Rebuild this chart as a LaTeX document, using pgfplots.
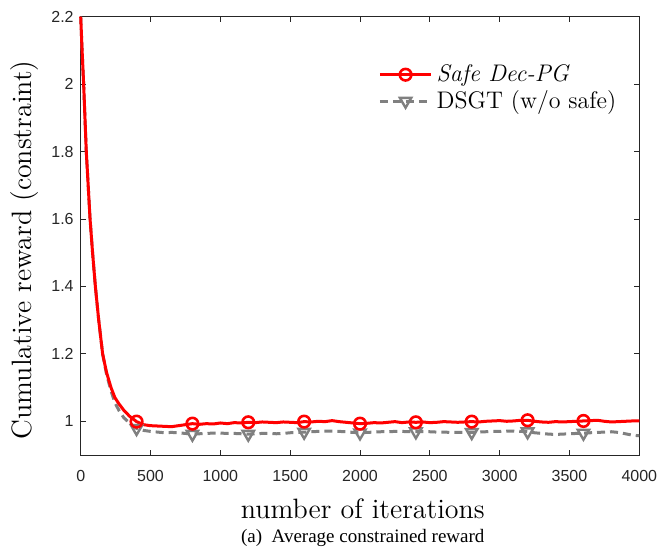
\documentclass[border=0pt]{standalone}
\usepackage{fontspec}
\usepackage{pgfplots}
\pgfplotsset{compat=1.18}
\newfontfamily\helv{Liberation Sans}
\newfontfamily\capfont{Liberation Serif}
\definecolor{axgray}{rgb}{0.15,0.15,0.15}
\definecolor{dgray}{rgb}{0.5,0.5,0.5}
\begin{document}
\begin{tikzpicture}
\begin{axis}[
  width=279.3pt, height=219.15pt, scale only axis,
  xmin=0, xmax=4000, ymin=0.9, ymax=2.2,
  xtick={0,500,...,4000},
  ytick={1,1.2,1.4,1.6,1.8,2,2.2},
  scaled ticks=false,
  /pgf/number format/1000 sep={},
  /pgf/number format/assume math mode=true,
  tick align=inside,
  major tick length=2.5pt,
  axis line style={axgray, line width=0.4pt},
  tick style={axgray, line width=0.4pt},
  ticklabel style={font=\helv\fontsize{8}{9}\selectfont, text=axgray},
  xticklabel style={yshift=-4pt},
  xlabel={number of iterations},
  ylabel={Cumulative reward (constraint)},
  label style={font=\fontsize{14}{16}\selectfont},
  xlabel style={at={(axis description cs:0.505,-0.122)}, anchor=center},
  ylabel style={at={(axis description cs:-0.101,0.468)}, anchor=center},
  clip=false,
  reverse legend,
  legend style={draw=none, fill=none, at={(0.97,0.905)}, anchor=north east,
    font=\fontsize{12}{13}\selectfont, row sep=-1pt, inner sep=1pt},
  legend cell align=left,
  legend image code/.code={\draw[#1, mark indices={2}] plot coordinates {(0cm,0cm) (0.45cm,0cm) (0.9cm,0cm)};},
]
\addplot[dgray, line width=1.5pt, dash pattern=on 4pt off 2.5pt, mark=triangle, mark size=3.3pt,
  mark options={solid, rotate=180, line width=1.2pt},
  mark indices={16,24,32,40,48,56,64,72,80}] coordinates {
(0,2.2) (10,2.1) (21,2.0) (40,1.8) (67,1.6) (85,1.5) (105,1.4) (129,1.3) (157,1.2)
(185,1.14) (217,1.09) (245,1.055) (277,1.03) (310,1.01) (350,0.995) (400,0.979)
(450,0.973) (500,0.97) (550,0.968) (600,0.966) (650,0.967) (700,0.966) (750,0.964)
(800,0.962) (850,0.963) (900,0.964) (950,0.965) (1000,0.965) (1050,0.964) (1100,0.964)
(1150,0.963) (1200,0.962) (1250,0.963) (1300,0.964) (1350,0.964) (1400,0.963) (1450,0.964)
(1500,0.966) (1550,0.967) (1600,0.968) (1650,0.969) (1700,0.97) (1750,0.971) (1800,0.971)
(1850,0.970) (1900,0.969) (1950,0.967) (2000,0.966) (2050,0.967) (2100,0.968) (2150,0.969)
(2200,0.969) (2250,0.970) (2300,0.970) (2350,0.969) (2400,0.969) (2450,0.969) (2500,0.969)
(2550,0.968) (2600,0.968) (2650,0.967) (2700,0.967) (2750,0.967) (2800,0.967) (2850,0.968)
(2900,0.969) (2950,0.970) (3000,0.970) (3050,0.971) (3100,0.971) (3150,0.970) (3200,0.969)
(3250,0.966) (3300,0.964) (3350,0.962) (3400,0.961) (3450,0.962) (3500,0.963) (3550,0.964)
(3600,0.965) (3650,0.966) (3700,0.967) (3750,0.968) (3800,0.969) (3850,0.967) (3900,0.963)
(3950,0.959) (4000,0.957)
};
\addlegendentry{DSGT (w/o safe)}
\addplot[red, line width=1.5pt, mark=o, mark size=2.9pt,
  mark options={solid, line width=1.3pt},
  mark indices={16,24,32,40,48,56,64,72,80}] coordinates {
(0,2.2) (10,2.1) (21,2.0) (40,1.8) (67,1.6) (85,1.5) (105,1.4) (129,1.3) (157,1.2)
(185,1.145) (217,1.1) (245,1.07) (277,1.05) (310,1.032) (350,1.015) (400,0.999)
(450,0.99) (500,0.987) (550,0.986) (600,0.985) (650,0.984) (700,0.987) (750,0.99)
(800,0.993) (850,0.991) (900,0.993) (950,0.992) (1000,0.995) (1050,0.993) (1100,0.996)
(1150,0.995) (1200,0.997) (1250,0.996) (1300,0.998) (1350,0.997) (1400,0.996) (1450,0.998)
(1500,0.997) (1550,0.996) (1600,0.999) (1650,0.998) (1700,1.0) (1750,0.999) (1800,1.002)
(1850,0.999) (1900,0.997) (1950,0.995) (2000,0.993) (2050,0.994) (2100,0.996) (2150,0.995)
(2200,0.997) (2250,0.999) (2300,0.996) (2350,0.998) (2400,0.997) (2450,0.998) (2500,0.996)
(2550,0.997) (2600,0.999) (2650,0.998) (2700,0.997) (2750,0.998) (2800,0.999) (2850,0.998)
(2900,1.0) (2950,1.001) (3000,1.002) (3050,1.0) (3100,1.001) (3150,1.003) (3200,1.003)
(3250,1.0) (3300,0.998) (3350,0.997) (3400,0.999) (3450,0.998) (3500,0.999) (3550,1.0)
(3600,1.001) (3650,1.002) (3700,1.003) (3750,1.0) (3800,0.998) (3850,0.999) (3900,1.0)
(3950,1.001) (4000,1.001)
};
\addlegendentry{\textit{Safe Dec-PG}}
\node[font=\capfont\fontsize{9.5}{11}\selectfont, anchor=center] at (rel axis cs:0.505,-0.19) {(a)\enspace Average constrained reward};
\coordinate (SW) at (rel axis cs:0,0);
\coordinate (NE) at (rel axis cs:1,1);
\end{axis}
\pgfresetboundingbox
\path ([xshift=-40.35pt,yshift=-48.5pt]SW) rectangle ([xshift=10.85pt,yshift=8.35pt]NE);
\end{tikzpicture}
\end{document}
